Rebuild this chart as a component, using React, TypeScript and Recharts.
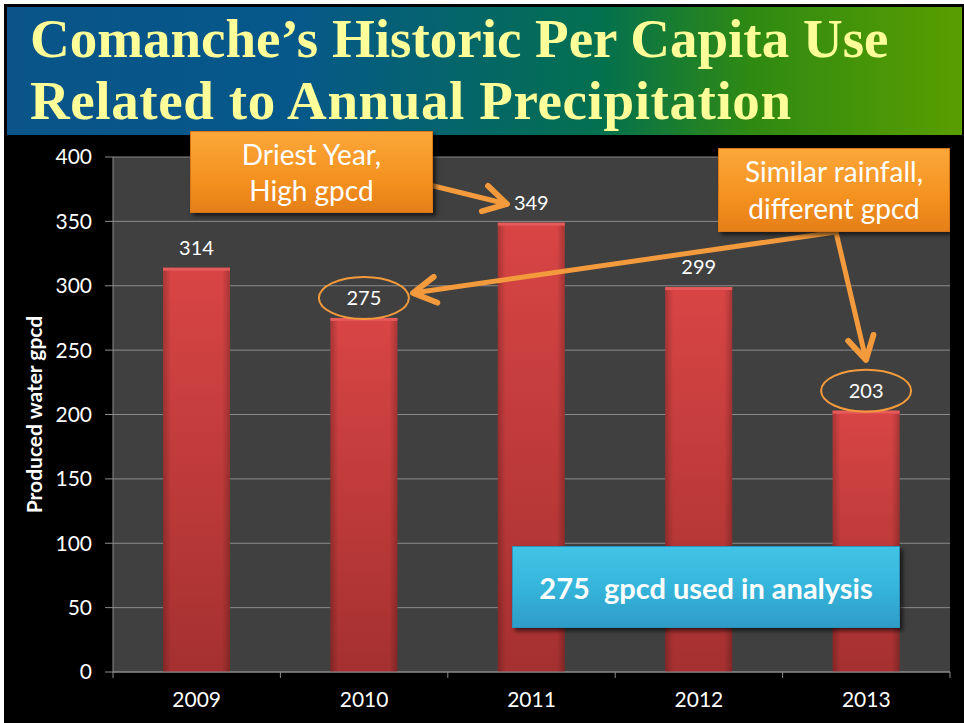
import React from 'react'
import { BarChart, Bar, XAxis, YAxis, CartesianGrid, LabelList } from 'recharts'

const years = ['2009', '2010', '2011', '2012', '2013']
const gpcd = [314, 275, 349, 299, 203]
const circled = ['2010', '2013']
const yTicks = [0, 50, 100, 150, 200, 250, 300, 350, 400]

const data = years.map((y, i) => ({ year: y, gpcd: gpcd[i] }))

const FONT = 'Lato, "Open Sans", sans-serif'
const ORANGE = '#f39a3c'

function BarShape(props: any) {
  const { x, y, width, height } = props
  if (!height) return null
  return (
    <g>
      <rect x={x} y={y} width={width} height={height} fill="url(#barV)" />
      <rect x={x} y={y} width={width} height={height} fill="url(#barH)" />
      <rect x={x} y={y} width={width} height={3} fill="#e55a5a" />
    </g>
  )
}

function ValueLabel(props: any) {
  const { x, y, width, value, index } = props
  const cx = x + width / 2
  const cy = y - 20
  const ring = circled.includes(years[index])
  return (
    <g>
      {ring && <ellipse cx={cx} cy={cy} rx={45} ry={21} fill="none" stroke={ORANGE} strokeWidth={2} />}
      <text x={cx} y={cy} dy={7} textAnchor="middle" fill="#ffffff" fontSize={20} fontFamily={FONT}>
        {value}
      </text>
    </g>
  )
}

function XTick(props: any) {
  const { x, payload } = props
  const axisY = 672
  const half = 83.7
  return (
    <g>
      <line x1={x - half} y1={axisY} x2={x - half} y2={axisY + 6} stroke="#8c8c8c" />
      {payload.index === years.length - 1 && (
        <line x1={x + half} y1={axisY} x2={x + half} y2={axisY + 6} stroke="#8c8c8c" />
      )}
      <text x={x} y={axisY + 35} textAnchor="middle" fill="#ffffff" fontSize={21} fontFamily={FONT}>
        {payload.value}
      </text>
    </g>
  )
}

const boxStyle: React.CSSProperties = {
  position: 'absolute',
  color: '#ffffff',
  fontFamily: FONT,
  textAlign: 'center',
  display: 'flex',
  alignItems: 'center',
  justifyContent: 'center',
  boxSizing: 'border-box',
  boxShadow: '3px 3px 4px rgba(0,0,0,0.6)',
}

const titleLine: React.CSSProperties = {
  position: 'absolute',
  left: 23,
  color: '#ffff99',
  fontFamily: '"Liberation Serif", serif',
  fontWeight: 'bold',
  fontSize: 55,
  lineHeight: '62px',
  whiteSpace: 'nowrap',
}

export default function App() {
  return (
    <div style={{ position: 'relative', width: 964, height: 723, background: '#ffffff', overflow: 'hidden' }}>
      <style>{'body{margin:0}'}</style>
      <div style={{ position: 'absolute', left: 4, top: 4, width: 960, height: 719, background: '#000000' }} />

      <div
        style={{
          position: 'absolute', left: 7, top: 7, width: 955, height: 128,
          background: 'linear-gradient(90deg, #0a5488 0%, #06588a 30%, #03704f 62%, #2f8a12 78%, #5a9e00 100%)',
        }}
      >
        <div style={{ ...titleLine, top: 1 }}>Comanche’s Historic Per Capita Use</div>
        <div style={{ ...titleLine, top: 63, letterSpacing: 0.6 }}>Related to Annual Precipitation</div>
      </div>

      <div style={{ position: 'absolute', left: 0, top: 0 }}>
        <BarChart width={964} height={723} data={data} margin={{ top: 157, right: 14, bottom: 0, left: 0 }}>
          <defs>
            <linearGradient id="barV" x1="0" y1="0" x2="0" y2="1">
              <stop offset="0%" stopColor="#d94545" />
              <stop offset="100%" stopColor="#a53030" />
            </linearGradient>
            <linearGradient id="barH" x1="0" y1="0" x2="1" y2="0">
              <stop offset="0%" stopColor="#000000" stopOpacity={0.22} />
              <stop offset="12%" stopColor="#000000" stopOpacity={0} />
              <stop offset="88%" stopColor="#000000" stopOpacity={0} />
              <stop offset="100%" stopColor="#000000" stopOpacity={0.22} />
            </linearGradient>
          </defs>
          <CartesianGrid vertical={false} fill="#404040" stroke="#8a8a8a" fillOpacity={1} />
          <XAxis
            dataKey="year"
            height={51}
            axisLine={{ stroke: '#8c8c8c' }}
            tickLine={false}
            tick={<XTick />}
            interval={0}
          />
          <YAxis
            width={113}
            domain={[0, 400]}
            ticks={yTicks}
            interval={0}
            axisLine={{ stroke: '#8c8c8c' }}
            tickLine={{ stroke: '#8c8c8c' }}
            tickSize={8}
            tickMargin={13}
            tick={{ fill: '#ffffff', fontSize: 21, fontFamily: FONT }}
            label={{
              value: 'Produced water gpcd', angle: -90, position: 'insideLeft', dx: 30,
              style: { fill: '#ffffff', fontSize: 21, fontWeight: 'bold', fontFamily: FONT, textAnchor: 'middle' },
            }}
          />
          <Bar dataKey="gpcd" barSize={67} shape={<BarShape />} isAnimationActive={false}>
            <LabelList dataKey="gpcd" content={<ValueLabel />} />
          </Bar>
        </BarChart>
      </div>

      <svg width={964} height={723} style={{ position: 'absolute', left: 0, top: 0, pointerEvents: 'none' }}>
        <defs>
          <marker id="head" viewBox="0 0 10 10" refX="8" refY="5" markerWidth="6.5" markerHeight="6.5" orient="auto-start-reverse">
            <path d="M 1 1 L 8 5 L 1 9" fill="none" stroke={ORANGE} strokeWidth={1.8} strokeLinecap="round" strokeLinejoin="round" />
          </marker>
        </defs>
        <line x1={405} y1={179} x2={507} y2={204} stroke={ORANGE} strokeWidth={5} strokeLinecap="round" markerEnd="url(#head)" />
        <line x1={836} y1={232} x2={413} y2={293} stroke={ORANGE} strokeWidth={5} strokeLinecap="round" markerEnd="url(#head)" />
        <line x1={836} y1={232} x2={866} y2={360} stroke={ORANGE} strokeWidth={5} strokeLinecap="round" markerEnd="url(#head)" />
      </svg>

      <div
        style={{
          ...boxStyle, left: 190, top: 131, width: 243, height: 82, fontSize: 28, lineHeight: '36px',
          background: 'linear-gradient(180deg, #fba73a 0%, #f4911f 60%, #e57f18 100%)',
          border: '1px solid #d9761a',
        }}
      >
        Driest Year,<br />High gpcd
      </div>
      <div
        style={{
          ...boxStyle, left: 718, top: 148, width: 232, height: 84, fontSize: 28, lineHeight: '37px',
          background: 'linear-gradient(180deg, #fba73a 0%, #f4911f 60%, #e57f18 100%)',
          border: '1px solid #d9761a',
        }}
      >
        Similar rainfall,<br />different gpcd
      </div>
      <div
        style={{
          ...boxStyle, left: 512, top: 546, width: 388, height: 82, fontSize: 29, fontWeight: 'bold',
          background: 'linear-gradient(180deg, #41c4e6 0%, #36b5db 50%, #2e9cc6 100%)',
          border: '1px solid #2a92bb',
          whiteSpace: 'pre',
        }}
      >
        {'275  gpcd used in analysis'}
      </div>
    </div>
  )
}
